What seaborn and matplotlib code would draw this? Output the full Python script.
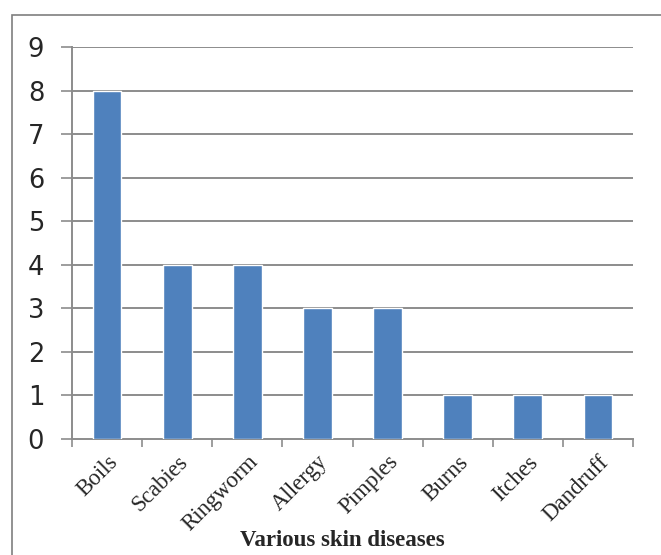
import matplotlib
matplotlib.use("Agg")
import matplotlib.pyplot as plt
import seaborn as sns
import pandas as pd
from matplotlib.patches import Rectangle

categories = ["Boils", "Scabies", "Ringworm", "Allergy", "Pimples", "Burns", "Itches", "Dandruff"]
values = [8, 4, 4, 3, 3, 1, 1, 1]
yticks = list(range(0, 10))
xlabel = "Various skin diseases"

sns.set_style("white")
df = pd.DataFrame({"disease": categories, "count": values})

fig = plt.figure(figsize=(6.61, 5.55), dpi=100)
ax = fig.add_axes([72/661, 1-439/555, (633-72)/661, (439-47)/555])

grid_c = "#8c8c8c"
sns.barplot(data=df, x="disease", y="count", color="#4F81BD", saturation=1,
            width=0.41, ax=ax, zorder=3)

ax.set_ylim(0, 9)
ax.set_xlim(-0.5, len(categories) - 0.5)
ax.set_yticks(yticks)
ax.set_yticklabels([str(v) for v in yticks], fontsize=18.5, family="DejaVu Sans")
for v in yticks[1:]:
    ax.axhline(v, color=grid_c, lw=1.4, zorder=1)

ax.set_xticks(range(len(categories)))
ax.set_xticklabels(categories, rotation=45, ha="right", rotation_mode="anchor",
                   fontsize=16.5, family="Liberation Serif")
ax.tick_params(axis="x", length=0, pad=9)
ax.tick_params(axis="y", length=8, width=1.2, color=grid_c, direction="out", pad=12, left=True)
ax.set_xticks([i - 0.5 for i in range(len(categories) + 1)], minor=True)
ax.tick_params(axis="x", which="minor", length=6, width=1.2, color=grid_c, direction="out", bottom=True)

for s in ["top", "right"]:
    ax.spines[s].set_visible(False)
for s in ["left", "bottom"]:
    ax.spines[s].set_color(grid_c)
    ax.spines[s].set_linewidth(1.4)

ax.set_ylabel("")
ax.set_xlabel("")
fig.text(342/661, 1 - 540/555, xlabel, fontsize=16.5, fontweight="bold",
         family="Liberation Serif", ha="center", va="center")

# outer frame
fig.patches.append(Rectangle((12/661, -0.05), 1.0, 1-15/555 + 0.05, transform=fig.transFigure,
                             fill=False, edgecolor="#7f7f7f", lw=1.2))

fig.savefig("out.png", dpi=100)
